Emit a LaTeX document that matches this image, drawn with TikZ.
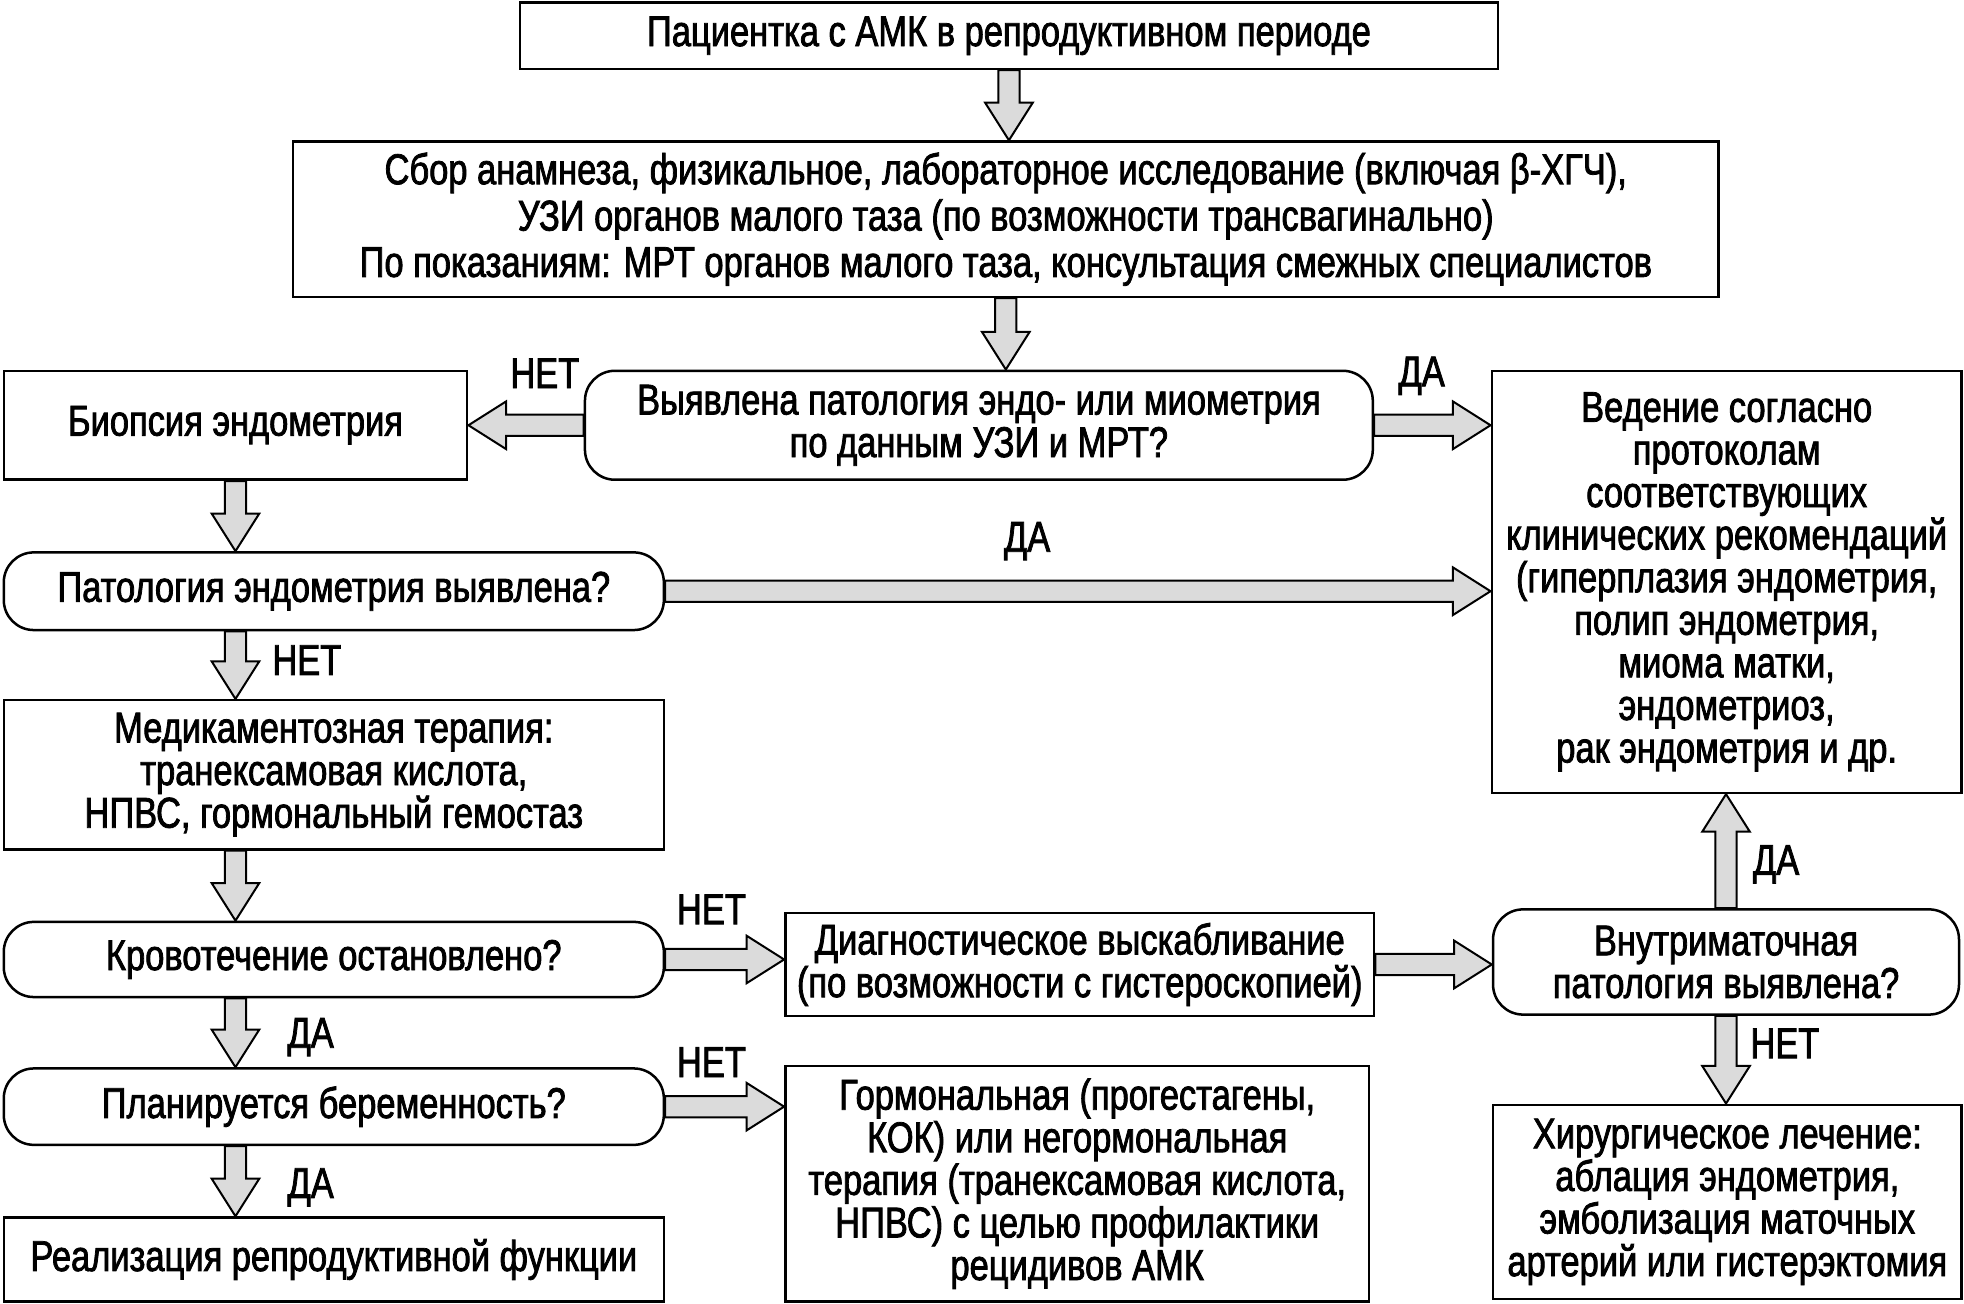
\documentclass[tikz,border=0pt]{standalone}
\usepackage{fontspec}
\setmainfont{Liberation Sans}[FakeStretch=0.8, FakeBold=1.8]
\usetikzlibrary{calc}

\tikzset{
  box/.style={draw, line width=1pt, align=center, inner sep=0pt},
  query/.style={box, rounded corners=12pt},
  size/.style 2 args={minimum width={#1*0.5pt}, minimum height={#2*0.5pt}},
  lbl/.style={inner sep=0pt},
  barrow/.style={draw=black, fill=gray!28, line width=0.8pt, line join=miter}
}

% block arrow from one point to another
\newcommand{\blockarrow}[2]{%
  \draw[barrow] let \p1=#1, \p2=#2, \n1={atan2(\y2-\y1,\x2-\x1)}, \n2={veclen(\x2-\x1,\y2-\y1)} in
    [shift={(\p1)}, rotate=\n1] (0pt,-4.25pt) -- ({\n2-15pt},-4.25pt) -- ({\n2-15pt},-9.5pt)
    -- (\n2,0pt) -- ({\n2-15pt},9.5pt) -- ({\n2-15pt},4.25pt) -- (0pt,4.25pt) -- cycle;}

\begin{document}
\begin{tikzpicture}[x=0.5pt, y=-0.5pt, every node/.style={font=\fontsize{17.2pt}{17pt}\selectfont}]

  \useasboundingbox (0,0) rectangle (1568,1041);

  \node[box, size={781}{53}] (patient) at (805.5,28.5) {Пациентка с АМК в репродуктивном периоде};
  \node[box, size={1138}{124}, font=\fontsize{17.2pt}{18.5pt}\selectfont] (exam) at (803,175)
    {Сбор анамнеза, физикальное, лабораторное исследование (включая β-ХГЧ),\\
     УЗИ органов малого таза (по возможности трансвагинально)\\
     По показаниям: МРТ органов малого таза, консультация смежных специалистов};
  \node[query, size={629}{87}] (detect) at (781.5,339.5) {Выявлена патология эндо- или миометрия\\ по данным УЗИ и МРТ?};
  \node[box, size={370}{87}] (biopsy) at (188,339.5) {Биопсия эндометрия};
  \node[box, size={375}{337}] (protocol) at (1378.5,464.5)
    {Ведение согласно\\ протоколам\\ соответствующих\\ клинических рекомендаций\\ (гиперплазия эндометрия,\\
     полип эндометрия,\\ миома матки,\\ эндометриоз,\\ рак эндометрия и др.};
  \node[query, size={527}{62}] (endo) at (266.5,472) {Патология эндометрия выявлена?};
  \node[box, size={527}{119}] (drug) at (266.5,618.5) {Медикаментозная терапия:\\ транексамовая кислота,\\ НПВС, гормональный гемостаз};
  \node[query, size={527}{60}] (stop) at (266.5,766) {Кровотечение остановлено?};
  \node[box, size={470}{82}] (curet) at (862,770) {Диагностическое выскабливание\\ (по возможности с гистероскопией)};
  \node[query, size={372}{84}] (intra) at (1378,768) {Внутриматочная\\ патология выявлена?};
  \node[box, size={374}{155}] (surg) at (1379,959.5) {Хирургическое лечение:\\ аблация эндометрия,\\ эмболизация маточных\\ артерий или гистерэктомия};
  \node[query, size={527}{61}] (preg) at (266.5,883.5) {Планируется беременность?};
  \node[box, size={466}{188}] (hormo) at (860,945)
    {Гормональная (прогестагены,\\ КОК) или негормональная\\ терапия (транексамовая кислота,\\ НПВС) с целью профилактики\\ рецидивов АМК};
  \node[box, size={527}{67}] (real) at (266.5,1005.5) {Реализация репродуктивной функции};

  % arrows
  \blockarrow{(patient.south)}{(patient.south |- exam.north)}
  \blockarrow{(exam.south)}{(exam.south |- detect.north)}
  \blockarrow{(detect.west)}{(detect.west -| biopsy.east)}
  \blockarrow{(detect.east)}{(detect.east -| protocol.west)}
  \blockarrow{(biopsy.south)}{(biopsy.south |- endo.north)}
  \blockarrow{(endo.east)}{(endo.east -| protocol.west)}
  \blockarrow{(biopsy.south |- endo.south)}{(biopsy.south |- drug.north)}
  \blockarrow{(biopsy.south |- drug.south)}{(biopsy.south |- stop.north)}
  \blockarrow{(biopsy.south |- stop.south)}{(biopsy.south |- preg.north)}
  \blockarrow{(biopsy.south |- preg.south)}{(biopsy.south |- real.north)}
  \blockarrow{(stop.east)}{(stop.east -| curet.west)}
  \blockarrow{(curet.east)}{(curet.east -| intra.west)}
  \blockarrow{(intra.north)}{(intra.north |- protocol.south)}
  \blockarrow{(intra.south)}{(intra.south |- surg.north)}
  \blockarrow{(preg.east)}{(preg.east -| hormo.west)}

  % labels
  \node[lbl] (no1) at (435,298) {НЕТ};
  \node[lbl] (yes1) at (1135,300) {ДА};
  \node[lbl] (yes2) at (820,432) {ДА};
  \node[lbl] (no2) at (245,527) {НЕТ};
  \node[lbl] (no3) at (568,726) {НЕТ};
  \node[lbl] (yes3) at (1418,690) {ДА};
  \node[lbl] (no4) at (1425,833) {НЕТ};
  \node[lbl] (yes4) at (248,828) {ДА};
  \node[lbl] (no5) at (568,848) {НЕТ};
  \node[lbl] (yes5) at (248,948) {ДА};

\end{tikzpicture}
\end{document}
